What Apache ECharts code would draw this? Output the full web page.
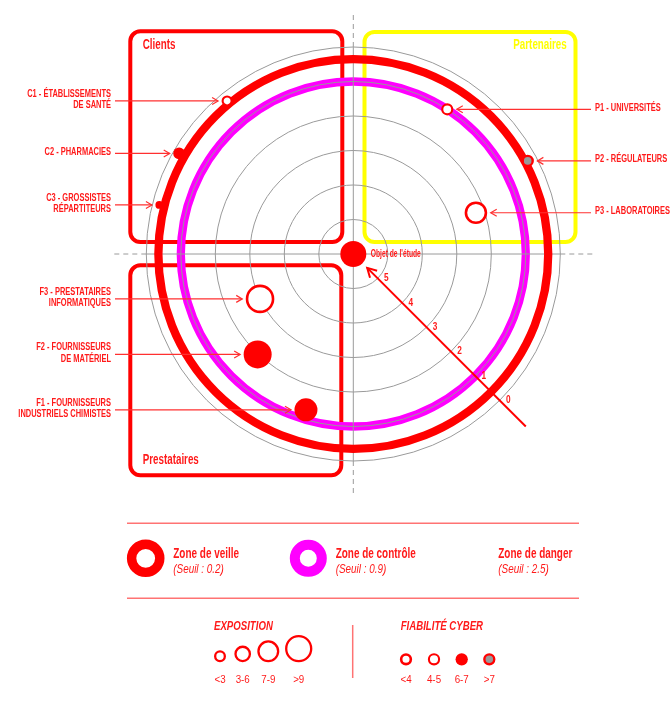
<!DOCTYPE html>
<html><head><meta charset="utf-8">
<script src="https://cdn.jsdelivr.net/npm/echarts@6/dist/echarts.min.js"></script>
<style>html,body{margin:0;padding:0;background:#fff}#c{width:671px;height:703px}</style>
</head><body><div id="c"></div>
<script>
// ---------- DATA ----------
const radialTicks = [0, 1, 2, 3, 4, 5];
const pointIds = ['C1', 'C2', 'C3', 'P1', 'P2', 'P3', 'F1', 'F2', 'F3'];
const pointLabels = [
  'C1 - ÉTABLISSEMENTS\nDE SANTÉ',
  'C2 - PHARMACIES',
  'C3 - GROSSISTES\nRÉPARTITEURS',
  'P1 - UNIVERSITÉS',
  'P2 - RÉGULATEURS',
  'P3 - LABORATOIRES',
  'F1 - FOURNISSEURS\nINDUSTRIELS CHIMISTES',
  'F2 - FOURNISSEURS\nDE MATÉRIEL',
  'F3 - PRESTATAIRES\nINFORMATIQUES'
];
const pointGroups = ['Clients', 'Clients', 'Clients', 'Partenaires', 'Partenaires', 'Partenaires', 'Prestataires', 'Prestataires', 'Prestataires'];
const pointLevels = [0.25, 0.17, 0.2, 1.0, 0.27, 2.25, 1.28, 1.98, 3.0];      // radial scale (0 outside .. 6 centre)
const pointAngles = [129.5, 150, 165.8, 57, 28.1, 18.6, 253.1, 226.4, 205.7]; // degrees
const pointExposition = [1.5, 2.9, 0.9, 2, 2, 7, 8.5, 11, 10];
const pointFiabilite = [4.5, 6.5, 6.5, 4.5, 8, 3, 6.5, 6.5, 3];
const zoneNames = ['Zone de veille', 'Zone de contrôle', 'Zone de danger'];
const zoneSeuils = ['0.2', '0.9', '2.5'];
const ringLevels = [0.35, 1.0]; // drawn positions of veille / contrôle rings
const expositionClasses = ['<3', '3-6', '7-9', '>9'];
const fiabiliteClasses = ['<4', '4-5', '6-7', '>7'];
const centerLabel = "Objet de l'étude";
const groupTitles = ['Clients', 'Partenaires', 'Prestataires'];

// ---------- STYLE ----------
const RED = '#ff0000', MAG = '#ff00ff', YEL = '#ffff00', GREY = '#9a9a9a', LINE = '#ff3030', TXT = '#ff1a1a';
const FONT = '"Liberation Sans",Arial,sans-serif';
const CX = 353.3, CY = 254, R = 207;

function symSize(e) { return 6 + 2 * e; }
function fiabStyle(f) {
  if (f < 4) return { color: '#fff', borderColor: RED, borderWidth: 2.6, opacity: 1 };
  if (f < 6) return { color: '#fff', borderColor: RED, borderWidth: 2.1, opacity: 1 };
  if (f <= 7) return { color: RED, borderColor: RED, borderWidth: 0, opacity: 1 };
  return { color: '#999', borderColor: RED, borderWidth: 2.4, opacity: 1 };
}

const pointData = pointIds.map((id, i) => ({
  name: id,
  value: [pointLevels[i], pointAngles[i], i],
  symbolSize: symSize(pointExposition[i]),
  itemStyle: fiabStyle(pointFiabilite[i])
}));

const chart = echarts.init(document.getElementById('c'));

// condensed text: horizontally squeezed text element
function stext(text, x, y, o) {
  o = o || {};
  const a = o.align || 'left';
  return {
    type: 'text', x: x, y: y, scaleX: o.sx || 0.7, scaleY: 1, z: o.z || 10,
    style: {
      text: text, x: 0, y: 0, fill: o.fill || TXT,
      fontFamily: FONT, fontSize: o.size || 12, fontWeight: o.weight || 'bold', fontStyle: o.italic ? 'italic' : 'normal',
      lineHeight: o.lh || undefined,
      align: a, textAlign: a, verticalAlign: 'middle', textVerticalAlign: 'middle'
    }
  };
}

const graphics = [];
// group frames
graphics.push({ type: 'rect', z: 0, shape: { x: 130.3, y: 31.3, width: 212, height: 210.7, r: 10 }, style: { fill: null, stroke: RED, lineWidth: 4 } });
graphics.push({ type: 'rect', z: 0, shape: { x: 364.5, y: 32, width: 211, height: 210, r: 10 }, style: { fill: null, stroke: YEL, lineWidth: 4 } });
graphics.push({ type: 'rect', z: 0, shape: { x: 130.3, y: 265.3, width: 211, height: 210, r: 10 }, style: { fill: null, stroke: RED, lineWidth: 4 } });
graphics.push(stext(groupTitles[0], 142.7, 45, { size: 14, sx: 0.7 }));
graphics.push(stext(groupTitles[1], 566.7, 45, { size: 14, sx: 0.7, fill: YEL, align: 'right' }));
graphics.push(stext(groupTitles[2], 142.7, 460, { size: 14, sx: 0.7 }));

// zone legend
const LCOL = 'rgba(255,0,0,0.55)';
graphics.push({ type: 'line', shape: { x1: 127, y1: 523.3, x2: 579, y2: 523.3 }, style: { stroke: LCOL, lineWidth: 1.5 } });
graphics.push({ type: 'line', shape: { x1: 127, y1: 598.3, x2: 579, y2: 598.3 }, style: { stroke: LCOL, lineWidth: 1.5 } });
graphics.push({ type: 'circle', shape: { cx: 145.7, cy: 558.3, r: 14.1 }, style: { fill: null, stroke: RED, lineWidth: 9.4 } });
graphics.push({ type: 'circle', shape: { cx: 308.3, cy: 558.3, r: 13.5 }, style: { fill: null, stroke: MAG, lineWidth: 10 } });
const zoneX = [173.3, 335.7, 498.3];
zoneNames.forEach((n, i) => {
  graphics.push(stext(n, zoneX[i], 554.3, { size: 14, sx: 0.71 }));
  graphics.push(stext('(Seuil : ' + zoneSeuils[i] + ')', zoneX[i], 569.3, { size: 13, sx: 0.76, weight: 'normal', italic: true }));
});

// exposition / fiabilité legend
graphics.push(stext('EXPOSITION', 214, 626.7, { size: 12.5, sx: 0.77, italic: true }));
graphics.push(stext('FIABILITÉ CYBER', 400.7, 626.7, { size: 12.5, sx: 0.77, italic: true }));
graphics.push({ type: 'line', shape: { x1: 352.7, y1: 625, x2: 352.7, y2: 678 }, style: { stroke: LCOL, lineWidth: 1.5 } });
const expX = [220, 242.7, 268.3, 298.7], expD = [12, 16.7, 22, 27.3];
expositionClasses.forEach((c, i) => {
  const r = (expD[i] - 2.3) / 2;
  graphics.push({ type: 'circle', shape: { cx: expX[i], cy: 662.3 - expD[i] / 2, r: r }, style: { fill: '#fff', stroke: RED, lineWidth: 2.3 } });
  graphics.push(stext(c, expX[i], 680, { size: 11.5, sx: 0.85, weight: 'normal', align: 'center' }));
});
const fiaX = [406, 434, 461.7, 489.3];
const fiaSample = [3, 4.5, 6.5, 8];
fiabiliteClasses.forEach((c, i) => {
  const s = fiabStyle(fiaSample[i]);
  const bw = s.borderWidth;
  graphics.push({ type: 'circle', shape: { cx: fiaX[i], cy: 659.3, r: (12.3 - bw) / 2 }, style: { fill: s.color, stroke: bw ? s.borderColor : null, lineWidth: bw } });
  graphics.push(stext(c, fiaX[i], 680, { size: 11.5, sx: 0.85, weight: 'normal', align: 'center' }));
});

function ringSeries(idx, color, z) {
  return {
    type: 'custom', coordinateSystem: 'polar', z: z, silent: true,
    data: [[ringLevels[idx], 0]],
    renderItem: function (params, api) {
      const c = api.coord([6, 0]);
      const p = api.coord([api.value(0), 0]);
      const r = Math.hypot(p[0] - c[0], p[1] - c[1]);
      return { type: 'circle', shape: { cx: c[0], cy: c[1], r: r }, style: { fill: null, stroke: color, lineWidth: 8.3 } };
    }
  };
}

const option = {
  animation: false,
  polar: { center: [CX, CY], radius: R },
  angleAxis: {
    type: 'value', min: 0, max: 360, startAngle: 0, clockwise: false,
    axisLine: { show: false }, axisTick: { show: false }, axisLabel: { show: false }, splitLine: { show: false }
  },
  radiusAxis: {
    type: 'value', min: 0, max: 6, interval: 1, inverse: true, z: 3,
    axisLine: { show: false }, axisTick: { show: false }, axisLabel: { show: false },
    splitLine: { show: true, lineStyle: { color: GREY, width: 1 } }
  },
  graphic: { elements: graphics },
  series: [
    ringSeries(1, MAG, 1),
    {
      // axis cross: solid inside, dashed outside
      type: 'custom', coordinateSystem: 'polar', z: 3, silent: true,
      data: [[0, 0], [0, 90], [0, 180], [0, 270]],
      renderItem: function (params, api) {
        const a = api.value(1);
        const c = api.coord([6, a]);
        const pR = api.coord([0, a]);
        const pE = api.coord([-1.04, a]);
        return {
          type: 'group', children: [
            { type: 'line', shape: { x1: c[0], y1: c[1], x2: pR[0], y2: pR[1] }, style: { stroke: GREY, lineWidth: 1 } },
            { type: 'line', shape: { x1: pR[0], y1: pR[1], x2: pE[0], y2: pE[1] }, style: { stroke: GREY, lineWidth: 1, lineDash: [5, 4] } }
          ]
        };
      }
    },
    ringSeries(0, RED, 5),
    {
      // diagonal reading arrow
      type: 'custom', coordinateSystem: 'polar', z: 6, silent: true,
      data: [[-1.07, 315, 5.43]],
      renderItem: function (params, api) {
        const a = api.value(1);
        const p0 = api.coord([api.value(0), a]);
        const p1 = api.coord([api.value(2), a]);
        const L = Math.hypot(p0[0] - p1[0], p0[1] - p1[1]);
        const ux = (p0[0] - p1[0]) / L, uy = (p0[1] - p1[1]) / L;
        const px = -uy, py = ux;
        return {
          type: 'group', children: [
            { type: 'line', shape: { x1: p0[0], y1: p0[1], x2: p1[0], y2: p1[1] }, style: { stroke: RED, lineWidth: 2 } },
            { type: 'polyline', shape: { points: [[p1[0] + 9 * ux + 5 * px, p1[1] + 9 * uy + 5 * py], [p1[0], p1[1]], [p1[0] + 9 * ux - 5 * px, p1[1] + 9 * uy - 5 * py]] }, style: { stroke: RED, lineWidth: 2, fill: null } }
          ]
        };
      }
    },
    {
      // radial scale labels along the arrow
      type: 'custom', coordinateSystem: 'polar', z: 7, silent: true,
      data: radialTicks.map(v => [v, 315]),
      renderItem: function (params, api) {
        const v = api.value(0);
        const p = api.coord([v - 0.17, api.value(1)]);
        return stext(String(v), p[0] + 4.5, p[1] - 4.5, { size: 11.5, sx: 0.72, align: 'center' });
      }
    },
    {
      // callouts: label + arrow to point
      type: 'custom', coordinateSystem: 'polar', z: 7, silent: true,
      data: pointData.map(d => d.value),
      renderItem: function (params, api) {
        const i = api.value(2);
        const p = api.coord([api.value(0), api.value(1)]);
        const right = pointGroups[i] === 'Partenaires';
        const s = fiabStyle(pointFiabilite[i]);
        const half = (symSize(pointExposition[i]) + s.borderWidth) / 2;
        const dir = right ? -1 : 1;
        const startX = right ? 591 : 115;
        const tipX = p[0] - dir * (half + 3.5);
        const y = p[1];
        return {
          type: 'group', children: [
            { type: 'line', shape: { x1: startX, y1: y, x2: tipX, y2: y }, style: { stroke: LINE, lineWidth: 1.2 } },
            { type: 'polyline', shape: { points: [[tipX - dir * 6, y - 3.5], [tipX, y], [tipX - dir * 6, y + 3.5]] }, style: { stroke: LINE, lineWidth: 1.2, fill: null } },
            stext(pointLabels[i], right ? 595 : 111, y - 1.5, { size: 11, sx: 0.68, lh: 11.5, align: right ? 'left' : 'right' })
          ]
        };
      }
    },
    {
      type: 'scatter', coordinateSystem: 'polar', z: 8, silent: true,
      data: pointData
    },
    {
      type: 'scatter', coordinateSystem: 'polar', z: 9, silent: true,
      data: [{ value: [6, 0], symbolSize: 26 }],
      itemStyle: { color: RED, opacity: 1 }
    },
    {
      // centre label
      type: 'custom', coordinateSystem: 'polar', z: 9, silent: true,
      data: [[6, 0]],
      renderItem: function (params, api) {
        const p = api.coord([api.value(0), api.value(1)]);
        return stext(centerLabel, p[0] + 17.4, p[1], { size: 10.5, sx: 0.64 });
      }
    }
  ]
};
chart.setOption(option);
</script>
</body></html>
